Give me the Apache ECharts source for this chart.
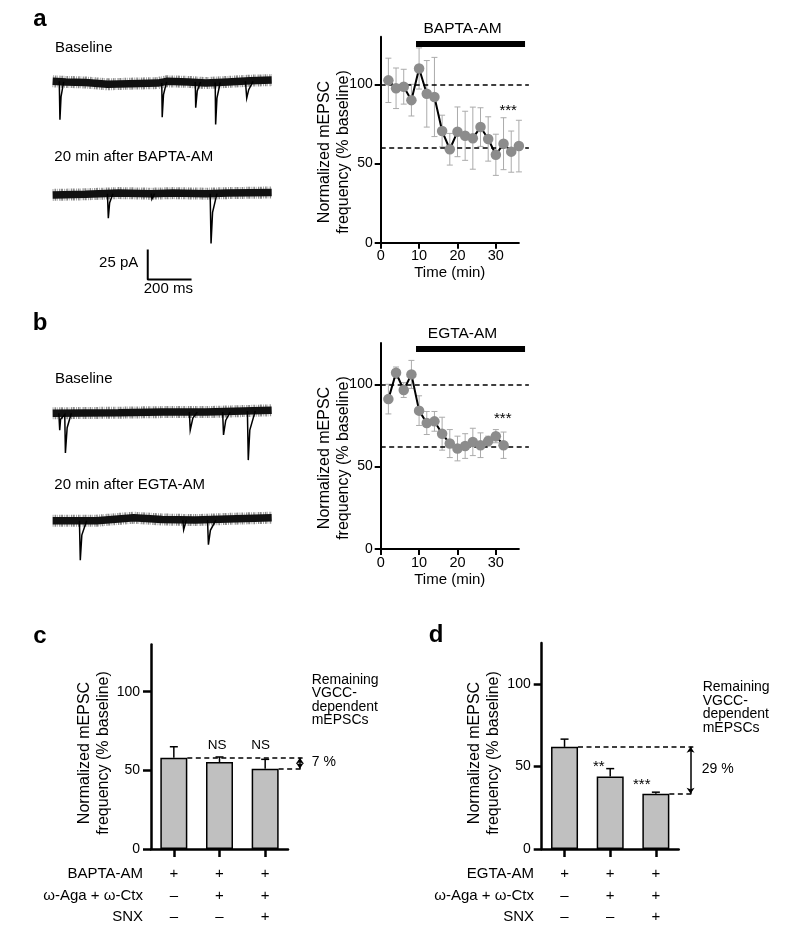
<!DOCTYPE html>
<html><head><meta charset="utf-8">
<script src="https://cdn.jsdelivr.net/npm/echarts@6/dist/echarts.min.js"></script>
<style>html,body{margin:0;padding:0;background:#fff}#c{width:800px;height:939px}</style>
</head><body><div id="c"></div>
<script>
// ---------------- DATA ----------------
// Panel a: BAPTA-AM time course
const timeA = [2,4,6,8,10,12,14,16,18,20,22,24,26,28,30,32,34,36];
const meanA = [102.5,97.5,98.5,90,110,94,92,70.5,59,70,67.5,66,73,65.5,55.5,62.5,57.5,61];
const semA  = [14,12.8,11,10,13,21,25,10,10,15.7,15.5,19.6,12.2,14,13,16.4,13,16.3];
const refLinesA = [100, 60];
const drugA = ['BAPTA-AM'];
const drugSpanA = [9.2, 37.6, 125.6];
const starsA = [[33.2, 83, '***']];

// Panel b: EGTA-AM time course
const timeB = [2,4,6,8,10,12,14,16,18,20,22,24,26,28,30,32];
const meanB = [91,107,96.5,106,84,76.5,77.5,70,64,61,62.5,65,63,65.5,68.5,63];
const semB  = [9,3.5,4.5,8.5,9,7,6,10,8.5,7.5,7.5,8.3,7.5,3,4,8];
const refLinesB = [100, 62];
const drugB = ['EGTA-AM'];
const drugSpanB = [9.2, 37.6, 121.3];
const starsB = [[31.8, 79, '***']];

const timeTicks = [0,10,20,30];
const yTicks = [0,50,100];

// Example traces (ms, pA): slow baseline + events
const traceA1Base = [[0,1],[60,0.5],[150,0],[250,-1.5],[350,-1],[480,-0.5],[520,1],[620,0.5],[700,-0.5],[800,0.5],[900,1.5],[1000,2]];
const traceA1Events = [
  [[30,1],[33,-31],[38,-12],[50,0.5]],
  [[498,-0.5],[500,-29],[506,-10],[520,0.5]],
  [[651,0.5],[653,-21],[660,-7],[675,0.5]],
  [[742,0],[744,-35],[750,-13],[765,0]],
  [[880,1],[886,-13],[895,-6],[915,1]]
];
const traceA2Base = [[0,-0.5],[150,0],[300,1],[450,0.5],[550,1],[700,0.5],[800,1],[1000,1.5]];
const traceA2Events = [
  [[250,0.5],[254,-20],[260,-7],[275,0.5]],
  [[450,0.5],[453,-4],[465,0.5]],
  [[719,0.5],[723,-41],[730,-15],[750,0.5]]
];
const traceB1Base = [[0,0],[300,0.5],[500,1],[700,1],[1000,2.5]];
const traceB1Events = [
  [[28,0],[32,-14],[36,-5],[55,-1],[58,-33],[66,-12],[85,0]],
  [[624,1],[628,-14],[640,-4],[660,1]],
  [[776,1],[780,-18],[790,-6],[810,1]],
  [[889,2],[893,-39],[900,-14],[925,2]]
];
const traceB2Base = [[0,0],[200,0],[370,2.5],[500,1],[650,0.5],[800,1.5],[1000,2.5]];
const traceB2Events = [
  [[122,0],[126,-33],[133,-12],[155,0]],
  [[594,0.5],[598,-7.5],[610,0.5]],
  [[707,0.5],[711,-20],[720,-8],[745,0.5]]
];
const scaleBar = [[434,-46],[434,-71],[634,-71]];
const scaleLabels = ['25 pA','200 ms'];

// Panels c, d: bar charts
const barPos = [0.5,1.5,2.5];
const meanC = [58,55.3,51];
const semC  = [7,3.2,6];
const sigC  = [[1.45,66,'NS'],[2.4,66,'NS']];
const meanD = [62,44,33.5];
const semD  = [4.7,4.8,1];
const sigD  = [[1.25,50,'**'],[2.19,39,'***']];
const rowLabelsC = ['BAPTA-AM','\u03c9-Aga + \u03c9-Ctx','SNX'];
const rowLabelsD = ['EGTA-AM','\u03c9-Aga + \u03c9-Ctx','SNX'];
const signs = [['+','+','+'],['\u2013','+','+'],['\u2013','\u2013','+']];
const diffC = '7 %';
const diffD = '29 %';
const remainText = 'Remaining\nVGCC-\ndependent\nmEPSCs';

// ---------------- CHART ----------------
const FONT = '"Liberation Sans", Arial, Helvetica, sans-serif';
const chart = echarts.init(document.getElementById('c'), null, {renderer:'canvas', width:800, height:939});

const grids = [
  {left:380.7, top:36.8, width:138.2, height:205.9},
  {left:380.7, top:343.1, width:138.2, height:205.9},
  {left:52.7, top:70.5, width:219, height:60},
  {left:52.7, top:182.3, width:219, height:72},
  {left:52.7, top:401.3, width:219, height:66},
  {left:52.7, top:508.7, width:219, height:66},
  {left:151, top:644.5, width:137, height:204.5},
  {left:541.7, top:643.1, width:137, height:205.9}
].map(g => Object.assign({outerBoundsMode:'none', containLabel:false}, g));

const txt = (size, extra) => Object.assign({color:'#000', fontFamily:FONT, fontSize:size}, extra||{});

function timeX(gi){
  return {gridIndex:gi, type:'value', min:0, max:36,
    axisLine:{show:true, onZero:false, lineStyle:{color:'#000', width:2}},
    axisTick:{show:true, length:6, customValues:timeTicks, lineStyle:{color:'#000', width:2}},
    axisLabel:{customValues:timeTicks, margin:6, ...txt(14.5)},
    splitLine:{show:false},
    name:'Time (min)', nameLocation:'middle', nameGap:23, nameTextStyle:txt(15)};
}
function valY(gi, max, tick, margin){
  return {gridIndex:gi, type:'value', min:0, max:max,
    axisLine:{show:true, onZero:false, lineStyle:{color:'#000', width:tick>6?2.5:2}},
    axisTick:{show:true, length:tick, customValues:yTicks, lineStyle:{color:'#000', width:tick>6?2.5:2}},
    axisLabel:{customValues:yTicks, margin:margin, ...txt(14)},
    splitLine:{show:false}};
}
function hiddenX(gi){ return {gridIndex:gi, type:'value', min:0, max:1000, show:false}; }
function hiddenY(gi, min, max){ return {gridIndex:gi, type:'value', min:min, max:max, show:false}; }
function barX(gi){
  return {gridIndex:gi, type:'value', min:0, max:3,
    axisLine:{show:true, onZero:false, lineStyle:{color:'#000', width:2.5}},
    axisTick:{show:true, length:8, customValues:barPos, lineStyle:{color:'#000', width:2.5}},
    axisLabel:{customValues:barPos, margin:14, lineHeight:21.6, ...txt(15),
      formatter:(v)=>{const i=Math.round(v-0.5); return signs.map(r=>r[i]).join('\n');}},
    splitLine:{show:false}};
}

function errRender(upOnly, capHalf, color, width){
  return function(params, api){
    const x = api.value(0), m = api.value(1), s = api.value(2);
    const top = api.coord([x, m + s]);
    const bot = api.coord([x, upOnly ? m : m - s]);
    const st = {stroke:color, lineWidth:width};
    const ch = [
      {type:'line', shape:{x1:top[0], y1:top[1], x2:bot[0], y2:bot[1]}, style:st},
      {type:'line', shape:{x1:top[0]-capHalf, y1:top[1], x2:top[0]+capHalf, y2:top[1]}, style:st}
    ];
    if(!upOnly) ch.push({type:'line', shape:{x1:bot[0]-capHalf, y1:bot[1], x2:bot[0]+capHalf, y2:bot[1]}, style:st});
    return {type:'group', children:ch};
  };
}

function labelSeries(gi, items){
  return {type:'scatter', xAxisIndex:gi, yAxisIndex:gi, z:6, silent:true, clip:false,
    symbol:'circle', symbolSize:1, itemStyle:{color:'rgba(255,255,255,0)', opacity:1},
    data:items,
    label:{show:true, position:'inside', formatter:(p)=>p.value[2], color:'#000', opacity:1, fontFamily:FONT, fontSize:15}};
}

function timeCourse(gi, t, m, s, refs, span, drugName, stars){
  return [
    {type:'custom', xAxisIndex:gi, yAxisIndex:gi, z:1, silent:true,
      data:t.map((x,i)=>[x,m[i],s[i]]), encode:{x:0,y:1},
      renderItem:errRender(false, 3, '#ababab', 1)},
    {type:'lines', coordinateSystem:'cartesian2d', xAxisIndex:gi, yAxisIndex:gi, z:2, silent:true, clip:false,
      data:refs.map(v=>({coords:[[0,v],[38.6,v]]})),
      lineStyle:{color:'#000', width:1.5, type:[5,3.5], opacity:1}},
    {type:'line', xAxisIndex:gi, yAxisIndex:gi, z:3, silent:true,
      data:t.map((x,i)=>[x,m[i]]), symbol:'circle', symbolSize:10.5, showSymbol:true,
      itemStyle:{color:'#8c8c8c', borderWidth:0}, lineStyle:{color:'#000', width:2}},
    {type:'lines', coordinateSystem:'cartesian2d', xAxisIndex:gi, yAxisIndex:gi, z:3, silent:true, clip:false,
      data:[{coords:[[span[0],span[2]],[span[1],span[2]]]}],
      lineStyle:{color:'#000', width:6, opacity:1, cap:'butt'}},
    labelSeries(gi, [
      {value:[(span[0]+span[1])/2, span[2], drugName[0]], label:{offset:[-8,-15], fontSize:15.5}},
      ...stars.map(st => ({value:st, label:{fontSize:15}}))
    ])
  ];
}

function traceSeries(gi, base, events){
  return [
    {type:'line', xAxisIndex:gi, yAxisIndex:gi, data:base, symbol:'none', silent:true, z:1,
      lineStyle:{color:'rgba(0,0,0,0.45)', width:12, type:[0.8,1.1,1.6,0.9,0.6,1.5,1.2,0.7,2,1.3]}},
    {type:'line', xAxisIndex:gi, yAxisIndex:gi, data:base, symbol:'none', silent:true, z:2,
      lineStyle:{color:'#111', width:7.5}},
    {type:'lines', coordinateSystem:'cartesian2d', xAxisIndex:gi, yAxisIndex:gi, polyline:true, silent:true, z:3, clip:false,
      data:events.map(c=>({coords:c})), lineStyle:{color:'#000', width:1.5, opacity:1}}
  ];
}

function barPanel(gi, means, sems, sig){
  return [
    {type:'bar', xAxisIndex:gi, yAxisIndex:gi, barWidth:27, silent:true, z:2,
      data:barPos.map((x,i)=>[x,means[i]]),
      itemStyle:{color:'#c0c0c0', borderColor:'#000', borderWidth:1.5}},
    {type:'custom', xAxisIndex:gi, yAxisIndex:gi, silent:true, z:3,
      data:barPos.map((x,i)=>[x,means[i],sems[i]]), encode:{x:0,y:1},
      renderItem:errRender(true, 4, '#000', 1.5)},
    {type:'lines', coordinateSystem:'cartesian2d', xAxisIndex:gi, yAxisIndex:gi, silent:true, z:4, clip:false,
      data:[{coords:[[0.795,means[0]],[3.32,means[0]]]},{coords:[[2.795,means[2]],[3.32,means[2]]]}],
      lineStyle:{color:'#000', width:1.5, type:[5,3.5], opacity:1}},
    {type:'lines', coordinateSystem:'cartesian2d', xAxisIndex:gi, yAxisIndex:gi, silent:true, z:4, clip:false,
      symbol:['arrow','arrow'], symbolSize:6,
      data:[{coords:[[3.26,means[0]],[3.26,means[2]]]}],
      lineStyle:{color:'#000', width:1.5, opacity:1}},
    labelSeries(gi, sig.map(s => ({value:s, label:{fontSize: s[2]==='NS'?13.5:15}})))
  ];
}

const series = [].concat(
  timeCourse(0, timeA, meanA, semA, refLinesA, drugSpanA, drugA, starsA),
  timeCourse(1, timeB, meanB, semB, refLinesB, drugSpanB, drugB, starsB),
  traceSeries(2, traceA1Base, traceA1Events),
  traceSeries(3, traceA2Base, traceA2Events),
  [{type:'line', xAxisIndex:3, yAxisIndex:3, data:scaleBar, symbol:'none', silent:true, clip:false,
    lineStyle:{color:'#000', width:2}}],
  traceSeries(4, traceB1Base, traceB1Events),
  traceSeries(5, traceB2Base, traceB2Events),
  barPanel(6, meanC, semC, sigC),
  barPanel(7, meanD, semD, sigD)
);

function T(text, x, y, opts){
  opts = opts || {};
  const el = {type:'text', x:x, y:y, silent:true, z:10,
    style:{text:text, fill:'#000',
      font:(opts.bold?'bold ':'') + (opts.size||15) + 'px ' + FONT,
      textAlign:opts.align||'left', align:opts.align||'left',
      textVerticalAlign:opts.valign||'middle', verticalAlign:opts.valign||'middle',
      lineHeight:opts.lh}};
  if (opts.rot) el.rotation = opts.rot;
  return el;
}
const R = Math.PI/2;
const graphics = [
  T('a', 40, 19, {bold:true, size:24, align:'center'}),
  T('b', 40, 323, {bold:true, size:24, align:'center'}),
  T('c', 40, 636, {bold:true, size:24, align:'center'}),
  T('d', 436, 635, {bold:true, size:24, align:'center'}),
  T('Baseline', 55, 48.3),
  T('20 min after BAPTA-AM', 54.3, 156.7),
  T('Baseline', 55, 379.3),
  T('20 min after EGTA-AM', 54.3, 485),
  T(scaleLabels[0], 138.3, 263.3, {align:'right'}),
  T(scaleLabels[1], 168.3, 288.5, {align:'center'}),
  T('Normalized mEPSC', 325, 152, {align:'center', rot:R, size:16}),
  T('frequency (% baseline)', 343.3, 152, {align:'center', rot:R, size:16}),
  T('Normalized mEPSC', 325, 458, {align:'center', rot:R, size:16}),
  T('frequency (% baseline)', 343.3, 458, {align:'center', rot:R, size:16}),
  T('Normalized mEPSC', 85, 753, {align:'center', rot:R, size:16}),
  T('frequency (% baseline)', 104, 753, {align:'center', rot:R, size:16}),
  T('Normalized mEPSC', 475, 753, {align:'center', rot:R, size:16}),
  T('frequency (% baseline)', 494, 753, {align:'center', rot:R, size:16}),
  T(remainText, 311.7, 673.3, {valign:'top', size:14, lh:13.5}),
  T(remainText, 702.7, 680.5, {valign:'top', size:14, lh:13.5}),
  T(diffC, 311.7, 762.3, {size:14}),
  T(diffD, 701.7, 769.3, {size:14})
];
const rowsY = [874, 895.7, 917];
rowLabelsC.forEach((s,i)=>graphics.push(T(s, 143, rowsY[i], {align:'right'})));
rowLabelsD.forEach((s,i)=>graphics.push(T(s, 534, rowsY[i], {align:'right'})));

chart.setOption({
  animation:false,
  backgroundColor:'#fff',
  grid:grids,
  xAxis:[timeX(0), timeX(1), hiddenX(2), hiddenX(3), hiddenX(4), hiddenX(5), barX(6), barX(7)],
  yAxis:[valY(0,130,6,8), valY(1,125,6,8), hiddenY(2,-40,10), hiddenY(3,-50,10), hiddenY(4,-45,10), hiddenY(5,-45,10),
         valY(6,130,8,11), valY(7,125,8,11)],
  series:series,
  graphic:{elements:graphics}
});
</script></body></html>
